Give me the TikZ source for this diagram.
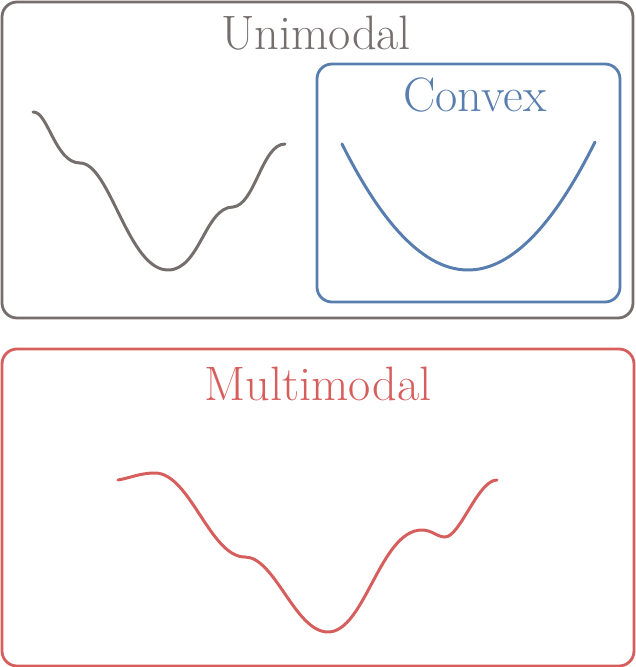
\documentclass[tikz,border=0pt]{standalone}
\usepackage{tikz}
\usetikzlibrary{positioning}
\definecolor{unigrey}{RGB}{117,110,109}
\definecolor{convblue}{RGB}{88,125,175}
\definecolor{multired}{RGB}{214,94,92}

\begin{document}
\begin{tikzpicture}[x=0.02cm, y=0.02cm,
    box/.style={line width=1.6pt, rounded corners=0.3cm},
    curve/.style={line width=1.7pt, line cap=round},
    title/.style={font=\fontsize{27.5}{32}\selectfont, anchor=base}]
    % Same Bounding Box
    \useasboundingbox (0,0) rectangle (636,667);

    \def\uniBox{(2,349) rectangle (633,665)}
    \def\convBox{(317,365) rectangle (620,603)}
    \def\multiBox{(2,1) rectangle (634,318)}

    % Boxes
    \draw[box, unigrey] \uniBox;
    \draw[box, convblue] \convBox;
    \draw[box, multired] \multiBox;

    % Labels
    \node[title, text=unigrey] (unimodal) at (316,617) {Unimodal};
    \node[title, text=convblue] (convex) at (475,555) {Convex};
    \node[title, text=multired] (multimodal) at (318,266) {Multimodal};

    % Unimodal curve
    \draw[curve, unigrey] (33,555) .. controls (48,556) and (55,504) .. (80,504)
        .. controls (110,504) and (128,397) .. (168,397)
        .. controls (200,397) and (205,460) .. (233,460)
        .. controls (255,462) and (262,523) .. (285,523);

    % Convex curve
    \draw[curve, convblue] plot[domain=-126:127, samples=60] ({468+\x},{397+126*(\x/126)^2});

    % Multimodal curve
    \draw[curve, multired] (118,187) .. controls (130,189) and (140,194) .. (155,194)
        .. controls (190,194) and (210,110) .. (245,110)
        .. controls (275,110) and (295,35) .. (328,35)
        .. controls (365,35) and (380,137) .. (422,137)
        .. controls (432,137) and (437,130) .. (445,130)
        .. controls (460,130) and (478,187) .. (497,187);
\end{tikzpicture}
\end{document}
